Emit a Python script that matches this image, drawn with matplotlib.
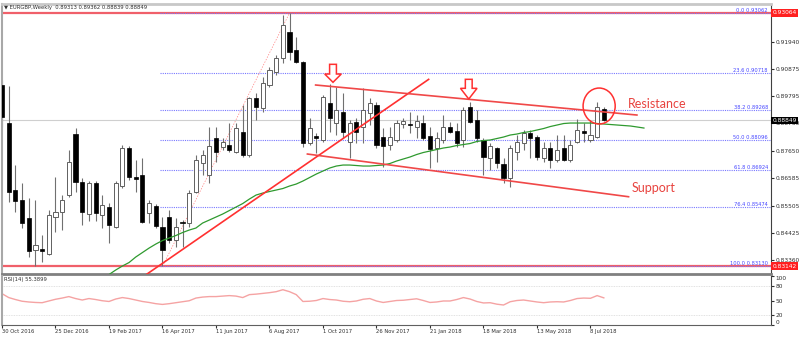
import numpy as np
import matplotlib.pyplot as plt
import matplotlib.transforms as mtransforms
from matplotlib.patches import Polygon, Ellipse

plt.rcParams['figure.dpi'] = 100

# weekly EURGBP candles, 30 Oct 2016 .. 22 Jul 2018
opens = [0.90239, 0.88737, 0.86121, 0.85729, 0.85011, 0.83768, 0.83796, 0.83611, 0.85074, 0.85270,
         0.85925, 0.88317, 0.86447, 0.85180, 0.86384, 0.85141, 0.85466, 0.84682, 0.86278, 0.87756,
         0.86643, 0.86709, 0.85207, 0.85494, 0.84682, 0.85050, 0.84160, 0.84878, 0.84815, 0.86054,
         0.87192, 0.86709, 0.88149, 0.87796, 0.87886, 0.87623, 0.88407, 0.87494, 0.89717, 0.89325,
         0.90239, 0.90760, 0.91286, 0.92329, 0.91611, 0.91152, 0.87952, 0.88239, 0.88082, 0.89545,
         0.88737, 0.89192, 0.88015, 0.88800, 0.88603, 0.89129, 0.89454, 0.88188, 0.87886, 0.88082,
         0.88697, 0.88729, 0.88603, 0.88737, 0.88239, 0.87756, 0.88082, 0.88603, 0.88446, 0.88082,
         0.89364, 0.88866, 0.88082, 0.87364, 0.87756, 0.87141, 0.86580, 0.87623, 0.87952, 0.88345,
         0.88188, 0.87364, 0.87756, 0.87298, 0.87756, 0.87298, 0.88015, 0.88435, 0.88082, 0.88211,
         0.89313]
highs = [0.90435, 0.90200, 0.87101, 0.86384, 0.85796, 0.85729, 0.84356, 0.85337, 0.86643, 0.85925,
         0.87690, 0.88541, 0.86592, 0.86474, 0.86474, 0.85925, 0.85600, 0.86474, 0.87886, 0.87847,
         0.87298, 0.87364, 0.85729, 0.85572, 0.85074, 0.85337, 0.85023, 0.84944, 0.86121, 0.87494,
         0.87690, 0.88603, 0.88603, 0.88160, 0.88737, 0.88737, 0.89454, 0.89780, 0.89913, 0.90564,
         0.90956, 0.91415, 0.92984, 0.93062, 0.92133, 0.91200, 0.88933, 0.88345, 0.89847, 0.90266,
         0.90172, 0.89913, 0.88866, 0.88945, 0.90109, 0.89717, 0.89584, 0.88541, 0.88603, 0.88866,
         0.88933, 0.89192, 0.89062, 0.89062, 0.88603, 0.88407, 0.89062, 0.88800, 0.88737, 0.89364,
         0.89584, 0.89258, 0.88149, 0.87952, 0.87819, 0.87364, 0.87886, 0.88278, 0.88474, 0.88474,
         0.88278, 0.88015, 0.88015, 0.88278, 0.88278, 0.88082, 0.88894, 0.88737, 0.88866, 0.89584,
         0.89362]
lows = [0.88603, 0.85662, 0.85270, 0.84619, 0.83505, 0.83141, 0.83297, 0.83572, 0.84474, 0.84552,
        0.85858, 0.86054, 0.84748, 0.84917, 0.84917, 0.84619, 0.84031, 0.84619, 0.86200, 0.86513,
        0.86054, 0.84827, 0.84815, 0.84619, 0.83130, 0.84043, 0.83897, 0.83897, 0.84682, 0.85992,
        0.86709, 0.86384, 0.87231, 0.87690, 0.87623, 0.87560, 0.87427, 0.87427, 0.88866, 0.89192,
        0.90172, 0.90631, 0.91090, 0.91219, 0.91090, 0.87819, 0.87886, 0.87560, 0.88015, 0.88407,
        0.88278, 0.88149, 0.87364, 0.87952, 0.87952, 0.88670, 0.87756, 0.87035, 0.87690, 0.88015,
        0.88541, 0.88345, 0.88149, 0.88082, 0.86972, 0.87231, 0.87952, 0.88345, 0.87819, 0.87819,
        0.88737, 0.88015, 0.86709, 0.86905, 0.86972, 0.86384, 0.86250, 0.87298, 0.87690, 0.87364,
        0.87298, 0.87231, 0.86972, 0.87231, 0.87258, 0.87231, 0.87952, 0.88015, 0.88015, 0.88149,
        0.88839]
closes = [0.88996, 0.86054, 0.85701, 0.84839, 0.83741, 0.83964, 0.83741, 0.85141, 0.85270, 0.85729,
          0.87231, 0.86447, 0.85270, 0.86384, 0.85207, 0.85533, 0.84748, 0.86384, 0.87756, 0.86619,
          0.86552, 0.84878, 0.85600, 0.84709, 0.83768, 0.84160, 0.84682, 0.84839, 0.85992, 0.87298,
          0.87494, 0.87847, 0.87623, 0.88015, 0.87690, 0.88541, 0.87494, 0.89717, 0.89388, 0.90305,
          0.90827, 0.91286, 0.92592, 0.91533, 0.91152, 0.87952, 0.88541, 0.88172, 0.89780, 0.88933,
          0.89258, 0.88407, 0.88760, 0.88407, 0.89258, 0.89521, 0.87886, 0.87847, 0.88188, 0.88737,
          0.88827, 0.88690, 0.88827, 0.88149, 0.87717, 0.88149, 0.88603, 0.88407, 0.87976, 0.89258,
          0.88800, 0.88149, 0.87427, 0.87847, 0.87168, 0.86580, 0.87756, 0.88015, 0.88368, 0.88149,
          0.87427, 0.87756, 0.87298, 0.87690, 0.87298, 0.87886, 0.88474, 0.88368, 0.88278, 0.89388,
          0.88849]

# green moving average (shifted), starts at candle 16
ma_start = 16
ma = [0.82807, 0.82984, 0.83141, 0.83278, 0.83494, 0.83670, 0.83846, 0.84003, 0.84141, 0.84239,
      0.84337, 0.84454, 0.84552, 0.84631, 0.84827, 0.84944, 0.85062, 0.85180, 0.85317, 0.85454,
      0.85591, 0.85768, 0.85925, 0.86003, 0.86062, 0.86121, 0.86180, 0.86278, 0.86356, 0.86474,
      0.86611, 0.86748, 0.86866, 0.86984, 0.87062, 0.87101, 0.87101, 0.87082, 0.87062, 0.87062,
      0.87082, 0.87101, 0.87160, 0.87258, 0.87337, 0.87415, 0.87513, 0.87592, 0.87650, 0.87709,
      0.87768, 0.87807, 0.87866, 0.87905, 0.87945, 0.88023, 0.88062, 0.88082, 0.88141, 0.88199,
      0.88278, 0.88317, 0.88376, 0.88415, 0.88474, 0.88533, 0.88611, 0.88670, 0.88729, 0.88748,
      0.88748, 0.88748, 0.88748, 0.88729, 0.88709, 0.88690, 0.88670, 0.88650, 0.88631, 0.88592,
      0.88552]

rsi = [64, 56, 52, 48.5, 47, 46, 45.5, 49, 52.5, 55,
       58, 54, 51, 54, 52, 49.5, 48, 53, 56, 54,
       51, 48, 46, 43.5, 42, 43.5, 45.5, 47.5, 49.5, 55,
       57, 58, 58, 59, 60, 59, 56, 62, 63, 64.5,
       66, 68, 72, 68, 62, 48, 48.5, 50, 54, 52,
       51, 48.5, 47.5, 49, 52.5, 54, 49, 46, 48, 50,
       50.5, 52, 53.5, 50, 46, 47, 49, 49, 52, 56,
       53, 48, 45, 45.5, 42.5, 40.8, 47.5, 50, 51, 49,
       47, 45.5, 47, 47.5, 47, 50, 54, 55, 54.5, 60,
       55.39]

date_idx = [0, 8, 16, 24, 32, 40, 48, 56, 64, 72, 80, 88]
date_labels = ['30 Oct 2016', '25 Dec 2016', '19 Feb 2017', '16 Apr 2017', '11 Jun 2017', '6 Aug 2017',
               '1 Oct 2017', '26 Nov 2017', '21 Jan 2018', '18 Mar 2018', '13 May 2018', '8 Jul 2018']

price_ticks = [0.91940, 0.90875, 0.89795, 0.88730, 0.87650, 0.86585, 0.85505, 0.84425, 0.83360]
rsi_ticks = [0, 20, 50, 80, 100]

fib_pct = ['0.0', '23.6', '38.2', '50.0', '61.8', '76.4', '100.0']
fib_vals = [0.93062, 0.90718, 0.89268, 0.88096, 0.86924, 0.85474, 0.83130]
fib_low_idx, fib_high_idx = 24, 43

red_levels = [0.93064, 0.83142]
last_price = 0.88849

uptrend = ([21.7, 63.8], [0.8283, 0.9046])
channel_top = ([46.9, 94.95], [0.90239, 0.89062])
channel_bottom = ([45.67, 93.7], [0.87533, 0.85858])

RED = '#ff3030'

fig = plt.figure(figsize=(8, 3.37))
ax = fig.add_axes([0.0025, 0.1869, 0.96125, 0.8012])
ax2 = fig.add_axes([0.0025, 0.0356, 0.96125, 0.1454], sharex=ax)

o = np.array(opens); h = np.array(highs); l = np.array(lows); c = np.array(closes)
x = np.arange(len(c))
up = c >= o
bot = np.minimum(o, c)
hgt = np.maximum(np.abs(c - o), 0.00025)

# horizontal levels
for v in red_levels:
    ax.axhline(v, color='#f0606a', lw=1.6, zorder=1)
ax.axhline(last_price, color='#cfcfcf', lw=0.8, zorder=1)
ax.hlines(fib_vals, fib_low_idx - 0.3, 116, colors='#7878ff', linestyles=(0, (1, 1)), lw=0.8, zorder=1.5)
ax.plot([fib_low_idx, fib_high_idx], [fib_vals[-1], fib_vals[0]], color='#ff8080', lw=0.5,
        ls=(0, (2, 2)), zorder=1.6)

# candles
ax.vlines(x, l, h, color='#707070', lw=0.8, zorder=2)
ax.bar(x[up], hgt[up], bottom=bot[up], width=0.62, color='white', edgecolor='#606060', lw=0.7, zorder=3)
ax.bar(x[~up], hgt[~up], bottom=bot[~up], width=0.62, color='black', edgecolor='black', lw=0.5, zorder=3)

ax.plot(np.arange(ma_start, ma_start + len(ma)), ma, color='#2f9a2f', lw=0.9, zorder=4)

# trend lines
ax.plot(*uptrend, color=RED, lw=1.2, zorder=5)
ax.plot(*channel_top, color='#f04848', lw=1.2, zorder=5)
ax.plot(*channel_bottom, color='#f04848', lw=1.2, zorder=5)


def down_arrow(cx, top, head, tip):
    sw, hw = 0.51, 1.24
    pts = [(cx - sw, top), (cx + sw, top), (cx + sw, head), (cx + hw, head),
           (cx, tip), (cx - hw, head), (cx - sw, head)]
    ax.add_patch(Polygon(pts, closed=True, fc='white', ec=RED, lw=1.1, zorder=6))


down_arrow(49.5, 0.91050, 0.90670, 0.90345)
down_arrow(69.8, 0.90462, 0.90109, 0.89690)
ax.add_patch(Ellipse((89.3, 0.89415), 4.8, 0.0141, fc='none', ec=RED, lw=1.1, zorder=6))

ax.text(93.6, 0.89494, 'Resistance', fontsize=9, family='Lato', color='#e8433f', va='center', ha='left')
ax.text(94.2, 0.86188, 'Support', fontsize=9, family='Lato', color='#e8433f', va='center', ha='left')

blend = mtransforms.blended_transform_factory(ax.transAxes, ax.transData)
for p, v in zip(fib_pct, fib_vals):
    ax.text(0.996, v, f'{p} {v:.5f}', transform=blend, ha='right', va='bottom',
            fontsize=3.7, color='#4646ff')

for v, bg in [(red_levels[0], '#ff2020'), (last_price, 'black'), (red_levels[1], '#ff2020')]:
    ax.text(1.002, v, f'{v:.5f}', transform=blend, ha='left', va='center', fontsize=4.2, color='white',
            bbox=dict(boxstyle='square,pad=0.25', fc=bg, ec='none'), zorder=10)

ax.text(0.002, 0.995, '\u25bc EURGBP,Weekly  0.89313 0.89362 0.88839 0.88849', transform=ax.transAxes,
        va='top', ha='left', fontsize=3.8, color='#303030')

ax.set_xlim(0.07, 115.0)
ax.set_ylim(0.82828, 0.93415)
ax.yaxis.tick_right()
ax.set_yticks(price_ticks)
ax.set_yticklabels([f'{v:.5f}' for v in price_ticks])
ax.tick_params(axis='y', labelsize=4.2, length=2, pad=1.5, colors='#303030')
ax.tick_params(axis='x', bottom=False, labelbottom=False)

ax.spines['top'].set_color('#c8c8c8'); ax.spines['top'].set_linewidth(2)
ax.spines['left'].set_color('#a8a8a8'); ax.spines['left'].set_linewidth(1.5)
ax.spines['right'].set_color('#404040'); ax.spines['right'].set_linewidth(0.8)
ax.spines['bottom'].set_color('#808080'); ax.spines['bottom'].set_linewidth(2)

# RSI panel
ax2.plot(x, rsi, color='#f5a3a3', lw=1.0)
ax2.hlines([80, 20], 0, 116, colors='#d8d8d8', linestyles=(0, (1, 1)), lw=0.6)
ax2.set_ylim(0, 100)
ax2.yaxis.tick_right()
ax2.set_yticks(rsi_ticks)
ax2.set_yticklabels([str(t) for t in rsi_ticks])
ax2.tick_params(axis='y', labelsize=4.2, length=2, pad=1.5, colors='#303030')
labs = ax2.get_yticklabels()
labs[0].set_va('bottom')
labs[-1].set_va('top')
ax2.set_xticks(date_idx)
ax2.set_xticklabels(date_labels, ha='left')
ax2.tick_params(axis='x', labelsize=3.8, length=2, pad=1, colors='#303030')
ax2.text(0.002, 0.97, 'RSI(14) 55.3899', transform=ax2.transAxes, va='top', fontsize=3.8, color='#303030')
ax2.spines['top'].set_visible(False)
ax2.spines['left'].set_color('#a8a8a8'); ax2.spines['left'].set_linewidth(1.5)
ax2.spines['right'].set_color('#404040'); ax2.spines['right'].set_linewidth(0.8)
ax2.spines['bottom'].set_color('#606060'); ax2.spines['bottom'].set_linewidth(0.8)

fig.savefig('out.png', dpi=100)
